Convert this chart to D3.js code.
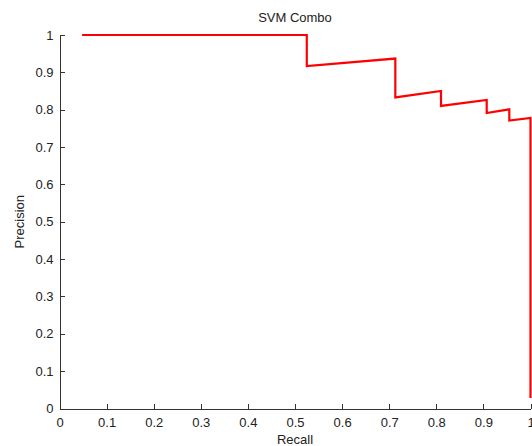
<!DOCTYPE html>
<html>
<head>
<meta charset="utf-8">
<script src="https://cdn.jsdelivr.net/npm/d3@7"></script>
<style>
  body { margin: 0; background: #fff; }
  svg { display: block; font-family: "Liberation Sans", Arial, sans-serif; }
  .axis path, .axis line { stroke: #333; shape-rendering: crispEdges; }
  .axis text { font-size: 13px; fill: #222; }
</style>
</head>
<body>
<div id="chart"></div>
<script>
// precision / recall corner points
var recall    = [0.048, 0.525, 0.525, 0.713, 0.713, 0.81, 0.81, 0.907, 0.907, 0.955, 0.955, 1.0, 1.0];
var precision = [1.0,   1.0,   0.917, 0.937, 0.833, 0.85, 0.81, 0.826, 0.791, 0.801, 0.771, 0.778, 0.028];
var tickValues = [0, 0.1, 0.2, 0.3, 0.4, 0.5, 0.6, 0.7, 0.8, 0.9, 1];
var tickLabels = ["0", "0.1", "0.2", "0.3", "0.4", "0.5", "0.6", "0.7", "0.8", "0.9", "1"];

var svg_width = 532, svg_height = 446;
var margin = {top: 35, right: 1.5, bottom: 37.5, left: 59.5};
var width = svg_width - margin.left - margin.right;
var height = svg_height - margin.top - margin.bottom;

var svg = d3.select("#chart").append("svg")
    .attr("width", svg_width)
    .attr("height", svg_height);

var g = svg.append("g")
    .attr("transform", "translate(" + margin.left + "," + margin.top + ")");

var x = d3.scaleLinear().domain([0, 1]).range([0, width]);
var y = d3.scaleLinear().domain([0, 1]).range([height, 0]);

function label(d) { return tickLabels[tickValues.indexOf(d)]; }

g.append("g")
    .attr("class", "axis axis-x")
    .attr("transform", "translate(0," + height + ")")
    .call(d3.axisBottom(x).tickValues(tickValues).tickFormat(label)
      .tickSizeInner(-5).tickSizeOuter(0).tickPadding(9));

g.append("g")
    .attr("class", "axis axis-y")
    .call(d3.axisLeft(y).tickValues(tickValues).tickFormat(label)
      .tickSizeInner(-5).tickSizeOuter(0).tickPadding(6));

var pts = recall.map(function(r, i) { return [r, precision[i]]; });

g.append("path")
    .datum(pts)
    .attr("fill", "none")
    .attr("stroke", "#ff0000")
    .attr("stroke-width", 2.2)
    .attr("stroke-linejoin", "miter")
    .attr("d", d3.line()
      .x(function(d) { return x(d[0]); })
      .y(function(d) { return y(d[1]); }));

// title and axis labels
svg.append("text")
    .attr("x", margin.left + width / 2)
    .attr("y", 22)
    .attr("text-anchor", "middle")
    .style("font-size", "13px")
    .style("fill", "#222")
    .text("SVM Combo");

svg.append("text")
    .attr("x", margin.left + width / 2)
    .attr("y", 444)
    .attr("text-anchor", "middle")
    .style("font-size", "13px")
    .style("fill", "#222")
    .text("Recall");

svg.append("text")
    .attr("transform", "translate(24," + (margin.top + height / 2) + ") rotate(-90)")
    .attr("text-anchor", "middle")
    .style("font-size", "13px")
    .style("fill", "#222")
    .text("Precision");
</script>
</body>
</html>
